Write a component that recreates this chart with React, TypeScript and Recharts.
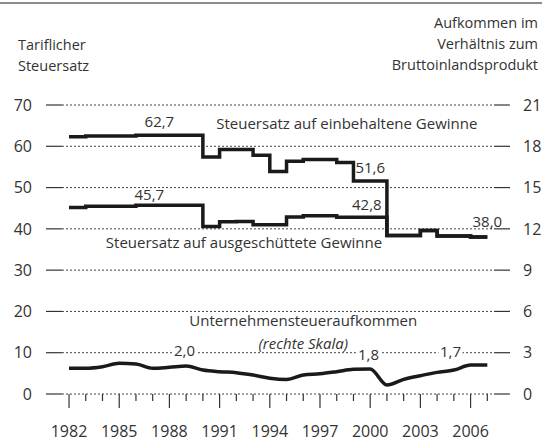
import { CartesianGrid, ComposedChart, Line, ReferenceDot, XAxis, YAxis } from "recharts";

const YEARS = [
  1982, 1983, 1984, 1985, 1986, 1987, 1988, 1989, 1990, 1991, 1992, 1993, 1994,
  1995, 1996, 1997, 1998, 1999, 2000, 2001, 2002, 2003, 2004, 2005, 2006, 2007,
];
// tariff rate on retained profits (left scale, %)
const RETAINED = [
  62.3, 62.5, 62.5, 62.5, 62.7, 62.7, 62.7, 62.7, 57.4, 59.2, 59.2, 57.8, 53.9,
  56.4, 56.8, 56.8, 56.1, 51.6, 51.6, 38.4, 38.4, 39.6, 38.3, 38.3, 38.0, 38.0,
];
// tariff rate on distributed profits (left scale, %)
const DISTRIBUTED = [
  45.2, 45.5, 45.5, 45.5, 45.7, 45.7, 45.7, 45.7, 40.6, 41.7, 41.8, 41.0, 41.0,
  42.9, 43.2, 43.2, 42.8, 42.8, 42.8, 38.4, 38.4, 39.6, 38.3, 38.3, 38.0, 38.0,
];
// corporate tax revenue in % of GDP (right scale)
const REVENUE = [
  1.87, 1.87, 1.98, 2.23, 2.18, 1.87, 1.94, 2.03, 1.74, 1.62, 1.55, 1.38, 1.15,
  1.06, 1.38, 1.47, 1.62, 1.79, 1.81, 0.65, 1.06, 1.33, 1.57, 1.74, 2.1, 2.1,
];
const LEFT_TICKS = [0, 10, 20, 30, 40, 50, 60, 70];
const RIGHT_TICKS = [0, 3, 6, 9, 12, 15, 18, 21];
const YEAR_LABELS = [1982, 1985, 1988, 1991, 1994, 1997, 2000, 2003, 2006];

const data = YEARS.map((year, i) => ({
  year,
  retained: RETAINED[i],
  distributed: DISTRIBUTED[i],
  revenue: REVENUE[i],
}));

const FONT = "'Open Sans', sans-serif";
const INK = "#333";

type Note = {
  text: string;
  x: number;
  y: number;
  axis: "left" | "right";
  anchor: "start" | "middle" | "end";
  italic?: boolean;
  bg?: number; // width of white knockout behind text
};

const NOTES: Note[] = [
  { text: "62,7", x: 1987.4, y: 64.7, axis: "left", anchor: "middle" },
  { text: "45,7", x: 1986.8, y: 47.0, axis: "left", anchor: "middle" },
  { text: "51,6", x: 2000.0, y: 53.6, axis: "left", anchor: "middle" },
  { text: "42,8", x: 1999.8, y: 44.6, axis: "left", anchor: "middle" },
  { text: "38,0", x: 2007.0, y: 40.4, axis: "left", anchor: "middle" },
  { text: "Steuersatz auf einbehaltene Gewinne", x: 1990.8, y: 64.3, axis: "left", anchor: "start" },
  { text: "Steuersatz auf ausgeschüttete Gewinne", x: 1984.2, y: 35.3, axis: "left", anchor: "start" },
  { text: "Unternehmensteueraufkommen", x: 1996.0, y: 16.5, axis: "left", anchor: "middle" },
  { text: "(rechte Skala)", x: 1996.0, y: 10.9, axis: "left", anchor: "middle", italic: true },
  { text: "2,0", x: 1988.9, y: 2.76, axis: "right", anchor: "middle", bg: 24 },
  { text: "1,8", x: 1999.9, y: 2.47, axis: "right", anchor: "middle", bg: 24 },
  { text: "1,7", x: 2004.8, y: 2.69, axis: "right", anchor: "middle", bg: 24 },
];

function NoteLabel({ viewBox, note }: any) {
  const cx = viewBox.x + (viewBox.width || 0) / 2;
  const cy = viewBox.y + (viewBox.height || 0) / 2;
  return (
    <g>
      {note.bg ? <rect x={cx - note.bg / 2} y={cy - 12} width={note.bg} height={15} fill="#fff" /> : null}
      <text
        x={cx}
        y={cy}
        textAnchor={note.anchor}
        fontSize={15}
        fontStyle={note.italic ? "italic" : "normal"}
        fill={INK}
        fontFamily={FONT}
      >
        {note.text}
      </text>
    </g>
  );
}

function YearTick({ x, y, payload }: any) {
  const major = YEAR_LABELS.includes(payload.value);
  return (
    <g>
      <line x1={x} x2={x} y1={y} y2={y + (major ? 14 : 7)} stroke={INK} strokeWidth={1.2} />
      {major ? (
        <text x={x} y={y + 43} textAnchor="middle" fontSize={16} fill={INK} fontFamily={FONT}>
          {payload.value}
        </text>
      ) : null}
    </g>
  );
}

const titleStyle: React.CSSProperties = {
  position: "absolute",
  fontSize: 14.5,
  lineHeight: "21px",
  color: INK,
  fontFamily: FONT,
};

export default function App() {
  return (
    <div style={{ position: "absolute", left: 0, top: 0, width: 542, height: 443, background: "#fff" }}>
      <div style={{ position: "absolute", left: 0, top: 2, width: 542, height: 2, background: "#8c8c8c" }} />
      <div style={{ ...titleStyle, left: 18, top: 34 }}>
        Tariflicher
        <br />
        Steuersatz
      </div>
      <div style={{ ...titleStyle, right: 4, top: 12, textAlign: "right" }}>
        Aufkommen im
        <br />
        Verhältnis zum
        <br />
        Bruttoinlandsprodukt
      </div>
      <ComposedChart
        width={542}
        height={443}
        data={data}
        margin={{ top: 105, right: 0, bottom: 0, left: 0 }}
        style={{ position: "absolute", left: 0, top: 0 }}
      >
        <CartesianGrid
          yAxisId="left"
          vertical={false}
          stroke="#444"
          strokeWidth={1}
          strokeDasharray="2 2"
        />
        <XAxis
          dataKey="year"
          type="number"
          domain={[1981.58, 2007.4]}
          ticks={YEARS}
          interval={0}
          height={49}
          axisLine={false}
          tickLine={false}
          tickSize={0}
          tickMargin={0}
          tick={<YearTick />}
        />
        <YAxis
          yAxisId="left"
          domain={[0, 70]}
          ticks={LEFT_TICKS}
          width={62}
          axisLine={false}
          tickSize={16}
          tickMargin={14}
          tickLine={{ stroke: INK, strokeWidth: 1.2 }}
          tick={{ fontSize: 16, fill: INK, fontFamily: FONT }}
        />
        <YAxis
          yAxisId="right"
          orientation="right"
          domain={[0, 21]}
          ticks={RIGHT_TICKS}
          width={48}
          axisLine={false}
          tickSize={16}
          tickMargin={13}
          tickLine={{ stroke: INK, strokeWidth: 1.2 }}
          tick={{ fontSize: 16, fill: INK, fontFamily: FONT, textAnchor: "start" }}
        />
        <Line
          yAxisId="left"
          dataKey="retained"
          type="stepAfter"
          stroke="#1a1a1a"
          strokeWidth={3.5}
          dot={false}
          isAnimationActive={false}
        />
        <Line
          yAxisId="left"
          dataKey="distributed"
          type="stepAfter"
          stroke="#1a1a1a"
          strokeWidth={3.5}
          dot={false}
          isAnimationActive={false}
        />
        <Line
          yAxisId="right"
          dataKey="revenue"
          type="monotone"
          stroke="#1a1a1a"
          strokeWidth={3.5}
          strokeLinejoin="round"
          dot={false}
          isAnimationActive={false}
        />
        {NOTES.map((n) => (
          <ReferenceDot
            key={n.text}
            x={n.x}
            y={n.y}
            yAxisId={n.axis}
            r={0}
            fill="none"
            stroke="none"
            label={(p: any) => <NoteLabel {...p} note={n} />}
          />
        ))}
      </ComposedChart>
    </div>
  );
}
